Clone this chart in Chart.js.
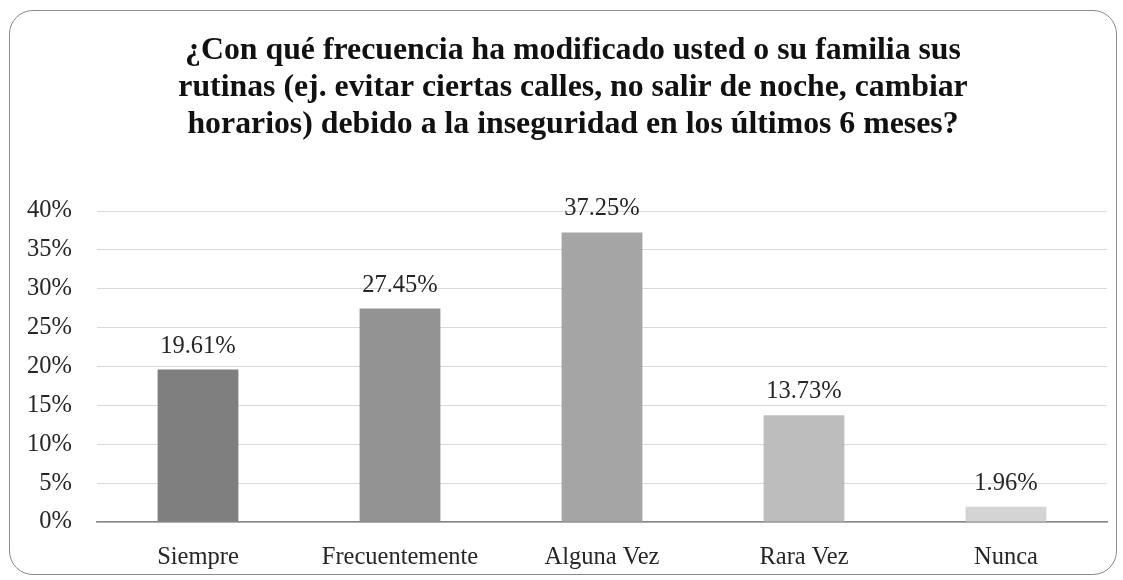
<!DOCTYPE html>
<html>
<head>
<meta charset="utf-8">
<script src="https://cdn.jsdelivr.net/npm/chart.js@4.4.0/dist/chart.umd.min.js"></script>
<style>
  html, body { margin: 0; padding: 0; background: #fff; overflow: hidden; }
  #marco {
    position: absolute; left: 9px; top: 10px; width: 1106px; height: 563px;
    border: 1.5px solid #8a8a8a; border-radius: 24px;
  }
  #wrap { position: absolute; left: 0; top: 0; width: 1123px; height: 580px; }
</style>
</head>
<body>
<div id="marco"></div>
<div id="wrap"><canvas id="myChart"></canvas></div>
<script>
// datos del grafico
const categorias = ['Siempre', 'Frecuentemente', 'Alguna Vez', 'Rara Vez', 'Nunca'];
const porcentajes = [19.61, 27.45, 37.25, 13.73, 1.96];
const colores = ['#7f7f7f', '#939393', '#a5a5a5', '#bdbdbd', '#d4d4d4'];
const titulo = [
  '¿Con qué frecuencia ha modificado usted o su familia sus',
  'rutinas (ej. evitar ciertas calles, no salir de noche, cambiar',
  'horarios) debido a la inseguridad en los últimos 6 meses?'
];

const fuente = "'Liberation Serif', 'Times New Roman', serif";

// etiquetas encima de cada barra
const etiquetas = {
  id: 'etiquetas',
  afterDatasetsDraw(chart) {
    const ctx = chart.ctx;
    const meta = chart.getDatasetMeta(0);
    ctx.save();
    ctx.font = '24.5px ' + fuente;
    ctx.fillStyle = '#262626';
    ctx.textAlign = 'center';
    ctx.textBaseline = 'alphabetic';
    meta.data.forEach((bar, i) => {
      ctx.fillText(porcentajes[i].toFixed(2) + '%', bar.x, bar.y - 17);
    });
    ctx.restore();
  }
};

// titulo centrado en el marco (no en el area del grafico)
const tituloPlugin = {
  id: 'tituloPlugin',
  afterDraw(chart) {
    const ctx = chart.ctx;
    ctx.save();
    ctx.font = 'bold 31.8px ' + fuente;
    ctx.fillStyle = '#111';
    ctx.textAlign = 'center';
    ctx.textBaseline = 'middle';
    titulo.forEach((linea, i) => {
      ctx.fillText(linea, 573, 51 + i * 37);
    });
    ctx.restore();
  }
};

const ctx = document.getElementById('myChart').getContext('2d');
const myChart = new Chart(ctx, {
  type: 'bar',
  data: {
    labels: categorias,
    datasets: [{
      data: porcentajes,
      backgroundColor: colores,
      borderWidth: 0,
      categoryPercentage: 1,
      barPercentage: 0.4
    }]
  },
  plugins: [etiquetas, tituloPlugin],
  options: {
    responsive: true,
    maintainAspectRatio: false,
    animation: false,
    layout: { padding: { left: 10, right: 16, top: 211, bottom: 0 } },
    plugins: {
      legend: { display: false },
      tooltip: { enabled: false },
      title: { display: false }
    },
    scales: {
      x: {
        afterFit(scale) { scale.height = 58; },
        grid: { display: false, drawTicks: false },
        border: { color: '#868686', width: 1.5 },
        ticks: { color: '#262626', font: { family: fuente, size: 24.5 }, padding: 21 }
      },
      y: {
        min: 0, max: 40,
        afterFit(scale) { scale.width = 87; },
        grid: { color: '#d9d9d9', lineWidth: 1, drawTicks: false },
        border: { display: false },
        ticks: {
          stepSize: 5,
          padding: 25,
          color: '#262626',
          font: { family: fuente, size: 24.5 },
          callback: v => v + '%'
        }
      }
    }
  }
});
</script>
</body>
</html>
